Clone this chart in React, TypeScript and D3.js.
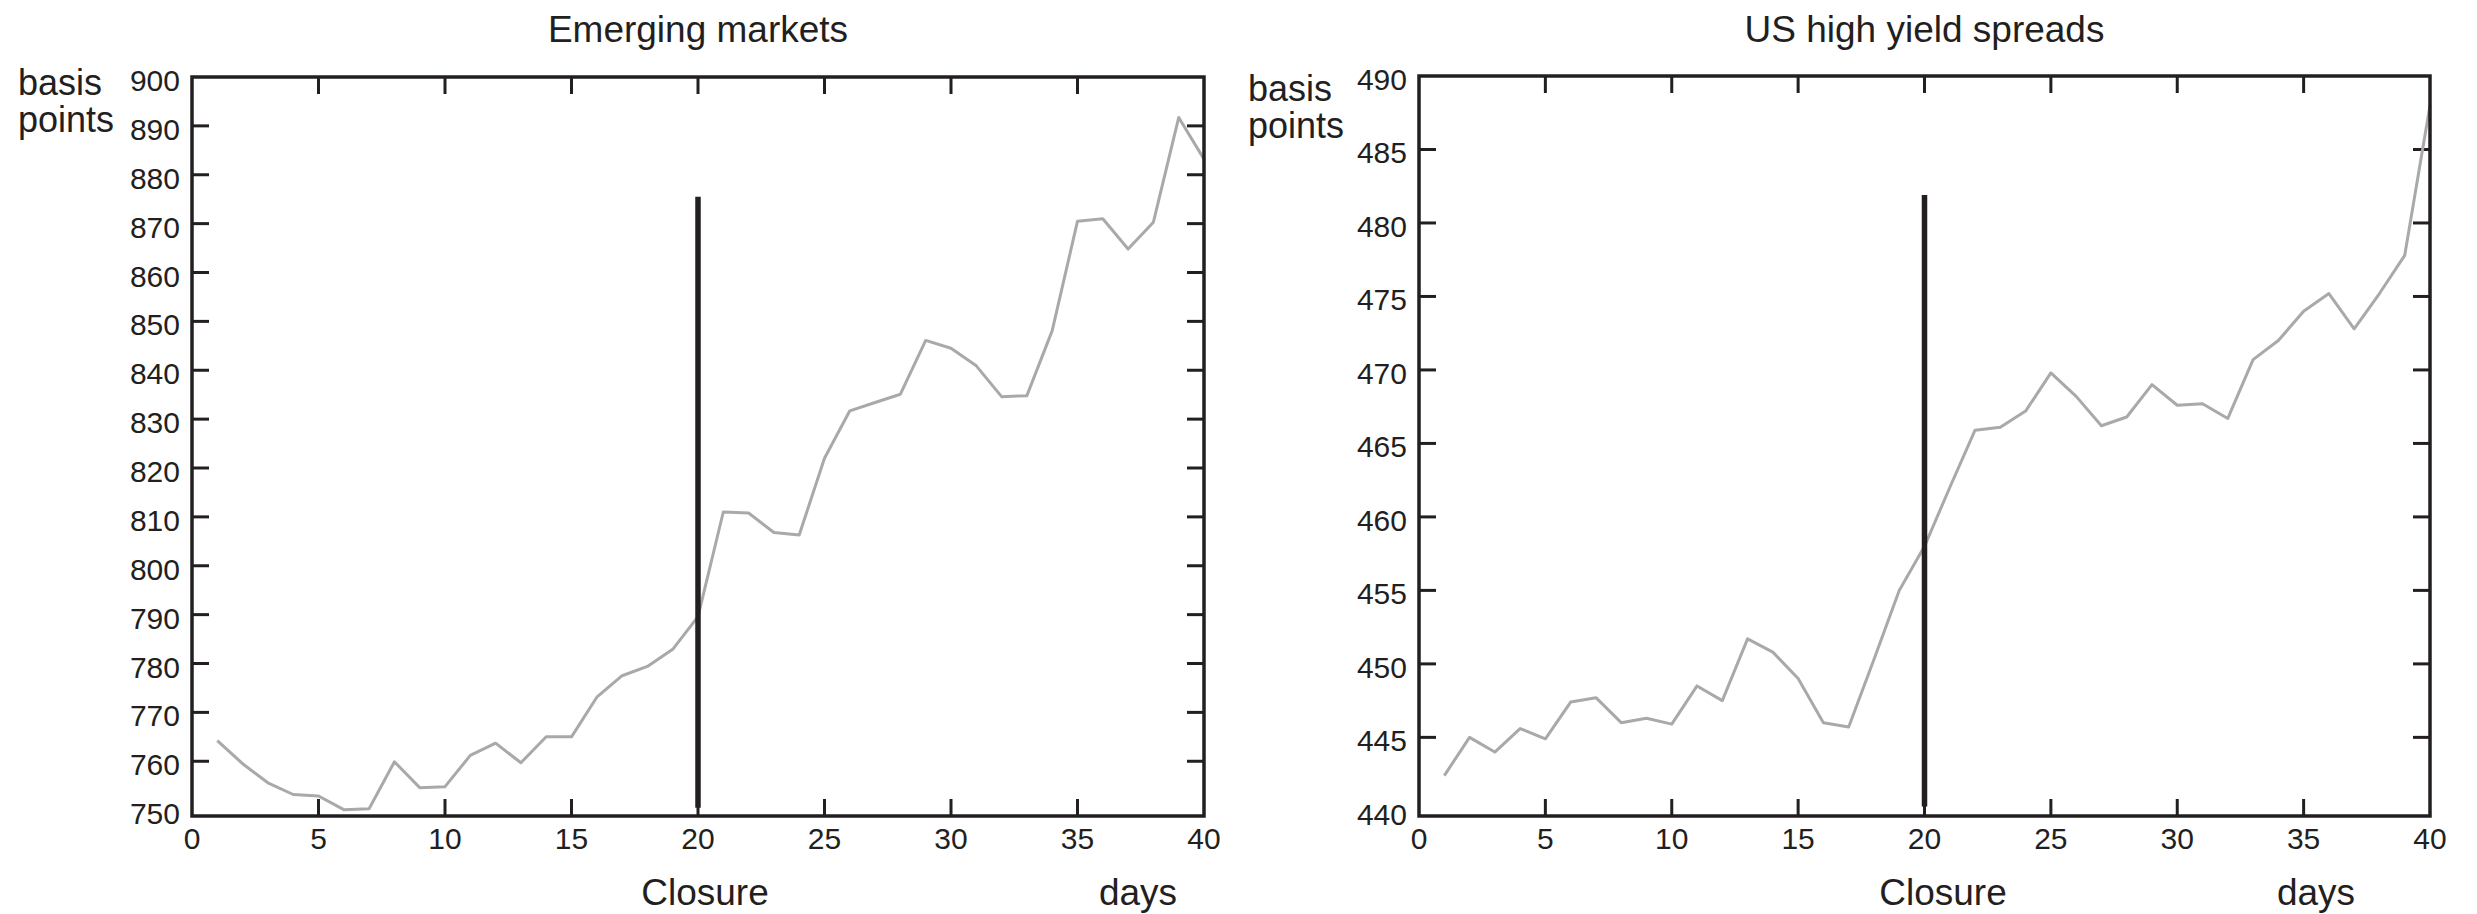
import * as d3 from "d3";
import React from "react";

// days 1..40 on both panels
const days = d3.range(1, 41);

const emergingValues = [
	764.2, 759.5, 755.6, 753.2, 752.9, 750.1, 750.3, 759.9, 754.6, 754.8,
	761.2, 763.7, 759.7, 765.0, 765.0, 773.1, 777.5, 779.4, 782.9, 789.6,
	811.0, 810.8, 806.8, 806.3, 822.0, 831.7, 833.4, 835.1, 846.1, 844.5,
	840.9, 834.6, 834.8, 848.1, 870.5, 871.0, 864.8, 870.3, 891.7, 883.2,
];

const highYieldValues = [
	442.4, 445.0, 444.0, 445.6, 444.9, 447.4, 447.7, 446.0, 446.3, 445.9,
	448.5, 447.5, 451.7, 450.8, 449.0, 446.0, 445.7, 450.3, 455.0, 458.0,
	462.0, 465.9, 466.1, 467.2, 469.8, 468.2, 466.2, 466.8, 469.0, 467.6,
	467.7, 466.7, 470.7, 472.0, 474.0, 475.2, 472.8, 475.2, 477.8, 488.0,
];

const xTicks = [0, 5, 10, 15, 20, 25, 30, 35, 40];
const emergingTicks = [750, 760, 770, 780, 790, 800, 810, 820, 830, 840, 850, 860, 870, 880, 890, 900];
const highYieldTicks = [440, 445, 450, 455, 460, 465, 470, 475, 480, 485, 490];

// the frame bottom sits a little under the lowest labelled tick in the original
const emergingDomain = [748.8, 900];
const highYieldDomain = [439.65, 490];

// closure marker: day and the span of the bar in basis points
const closureDay = 20;
const emergingClosure = [750.5, 875.5];
const highYieldClosure = [440.3, 481.9];

const INK = "#231f20";
const GREY = "#a9a9ab";
const FONT = "'Liberation Sans', Arial, Helvetica, sans-serif";

export const useD3 = (renderChartFn, dependencies) => {
	const ref = React.useRef(null);
	React.useEffect(() => {
		renderChartFn(d3.select(ref.current));
	}, dependencies);
	return ref;
};

const panels = [
	{
		title: "Emerging markets",
		values: emergingValues,
		yTicks: emergingTicks,
		domain: emergingDomain,
		closure: emergingClosure,
		left: 192,
		right: 1204,
		top: 77,
		bottom: 816,
		unitX: 18,
		unitY: 95,
		closureX: 705,
		daysX: 1138,
	},
	{
		title: "US high yield spreads",
		values: highYieldValues,
		yTicks: highYieldTicks,
		domain: highYieldDomain,
		closure: highYieldClosure,
		left: 1419,
		right: 2430,
		top: 76,
		bottom: 816,
		unitX: 1248,
		unitY: 101,
		closureX: 1943,
		daysX: 2316,
	},
];

const drawPanel = (g, p) => {
	const x = d3.scaleLinear().domain([0, 40]).range([p.left, p.right]);
	const y = d3.scaleLinear().domain(p.domain).range([p.bottom, p.top]);
	const tickLen = 17;

	// title
	g.append("text")
		.attr("x", (p.left + p.right) / 2)
		.attr("y", 42)
		.attr("text-anchor", "middle")
		.attr("font-size", 37)
		.attr("fill", INK)
		.text(p.title);

	// unit label
	const unit = g
		.append("text")
		.attr("x", p.unitX)
		.attr("y", p.unitY)
		.attr("font-size", 36)
		.attr("fill", INK);
	unit.append("tspan").attr("x", p.unitX).text("basis");
	unit.append("tspan").attr("x", p.unitX).attr("dy", 37).text("points");

	// inner ticks
	const inner = xTicks.slice(1, -1);
	g.selectAll(".xt-bottom")
		.data(inner)
		.join("line")
		.attr("x1", (d) => x(d))
		.attr("x2", (d) => x(d))
		.attr("y1", p.bottom)
		.attr("y2", p.bottom - tickLen)
		.attr("stroke", INK)
		.attr("stroke-width", 3);
	g.selectAll(".xt-top")
		.data(inner)
		.join("line")
		.attr("x1", (d) => x(d))
		.attr("x2", (d) => x(d))
		.attr("y1", p.top)
		.attr("y2", p.top + tickLen)
		.attr("stroke", INK)
		.attr("stroke-width", 3);

	const innerY = p.yTicks.slice(1, -1);
	g.selectAll(".yt-left")
		.data(innerY)
		.join("line")
		.attr("x1", p.left)
		.attr("x2", p.left + tickLen)
		.attr("y1", (d) => y(d))
		.attr("y2", (d) => y(d))
		.attr("stroke", INK)
		.attr("stroke-width", 3);
	g.selectAll(".yt-right")
		.data(innerY)
		.join("line")
		.attr("x1", p.right)
		.attr("x2", p.right - tickLen)
		.attr("y1", (d) => y(d))
		.attr("y2", (d) => y(d))
		.attr("stroke", INK)
		.attr("stroke-width", 3);

	// tick labels
	g.selectAll(".xl")
		.data(xTicks)
		.join("text")
		.attr("x", (d) => x(d))
		.attr("y", 849)
		.attr("text-anchor", "middle")
		.attr("font-size", 30)
		.attr("fill", INK)
		.text((d) => d);
	g.selectAll(".yl")
		.data(p.yTicks)
		.join("text")
		.attr("x", p.left - 12)
		.attr("y", (d) => y(d) + 14)
		.attr("text-anchor", "end")
		.attr("font-size", 30)
		.attr("fill", INK)
		.text((d) => d);

	// series
	const line = d3
		.line()
		.x((d, i) => x(days[i]))
		.y((d) => y(d));
	g.append("path")
		.attr("d", line(p.values))
		.attr("fill", "none")
		.attr("stroke", GREY)
		.attr("stroke-width", 3)
		.attr("stroke-linejoin", "round");

	// closure bar
	g.append("line")
		.attr("x1", x(closureDay))
		.attr("x2", x(closureDay))
		.attr("y1", y(p.closure[0]))
		.attr("y2", y(p.closure[1]))
		.attr("stroke", INK)
		.attr("stroke-width", 5.5);

	// frame
	g.append("rect")
		.attr("x", p.left)
		.attr("y", p.top)
		.attr("width", p.right - p.left)
		.attr("height", p.bottom - p.top)
		.attr("fill", "none")
		.attr("stroke", INK)
		.attr("stroke-width", 3.5);

	// axis captions
	g.append("text")
		.attr("x", p.closureX)
		.attr("y", 905)
		.attr("text-anchor", "middle")
		.attr("font-size", 37)
		.attr("fill", INK)
		.text("Closure");
	g.append("text")
		.attr("x", p.daysX)
		.attr("y", 905)
		.attr("text-anchor", "middle")
		.attr("font-size", 37)
		.attr("fill", INK)
		.text("days");
};

export default function App() {
	const ref = useD3((svg) => {
		svg.selectAll("*").remove();
		panels.forEach((p) => drawPanel(svg.append("g"), p));
	}, []);

	return (
		<div style={{ position: "absolute", left: 0, top: 0 }}>
			<svg
				ref={ref}
				width={2477}
				height={914}
				style={{ display: "block", fontFamily: FONT, background: "#fff" }}
			/>
		</div>
	);
}
